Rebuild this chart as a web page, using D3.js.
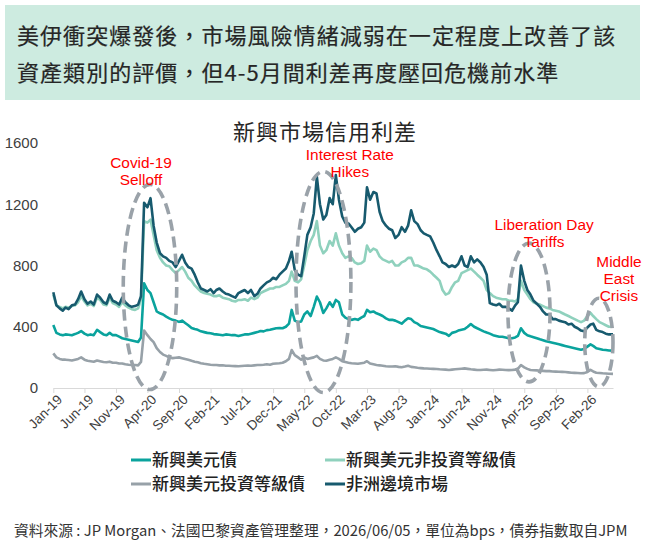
<!DOCTYPE html>
<html><head><meta charset="utf-8">
<script src="https://cdn.jsdelivr.net/npm/d3@7"></script>
<style>
body{margin:0;background:#fff}
svg{display:block;font-family:"Noto Sans CJK TC","Noto Sans",sans-serif}
</style>
</head><body>
<svg id="chart" width="648" height="543"></svg>
<script>
// ---------- data ----------
const headerLines = ["美伊衝突爆發後，市場風險情緒減弱在一定程度上改善了該", "資產類別的評價，但4-5月間利差再度壓回危機前水準"];
const chartTitle = "新興市場信用利差";
const footerText = "資料來源 : JP Morgan、法國巴黎資產管理整理，2026/06/05，單位為bps，債券指數取自JPM";
const seriesNames = ["新興美元債", "新興美元非投資等級債", "新興美元投資等級債", "非洲邊境市場"];
const tickLabels = ["Jan-19","Jun-19","Nov-19","Apr-20","Sep-20","Feb-21","Jul-21","Dec-21","May-22","Oct-22","Mar-23","Aug-23","Jan-24","Jun-24","Nov-24","Apr-25","Sep-25","Feb-26"];
const yTicks = [0, 400, 800, 1200, 1600];
const firstDate = "2019-01-01", lastDate = "2026-06-05";

// semi-monthly observations: 1st and 16th of each month, Jan 2019 .. May 2026, then 5 Jun 2026
const emUsd = [
 412,360,350,345,350,348,345,352,360,372,355,345,350,345,380,365,350,345,360,345,345,335,325,320,
 315,310,305,300,330,684,640,620,560,500,488,480,466,455,445,440,432,440,425,410,392,385,380,370,
 365,360,358,352,350,348,345,350,348,345,345,340,345,350,350,355,360,365,372,370,378,380,385,390,
 392,390,400,420,510,440,430,434,480,500,470,530,597,560,490,520,560,530,575,560,480,460,450,445,
 450,445,460,470,510,495,500,488,480,470,455,445,445,440,430,420,440,455,450,430,420,405,400,395,
 390,385,375,365,360,355,340,360,365,375,380,385,400,418,400,390,380,370,362,355,345,340,335,335,
 330,325,325,330,340,390,360,345,338,332,325,318,312,305,300,295,290,285,280,275,270,265,260,255,
 250,255,270,285,275,260,255,250,248,245,244];
const emHY = [
 610,540,530,520,530,525,535,540,560,600,565,540,550,535,590,575,545,540,590,555,545,530,560,540,
 525,515,510,520,580,1090,1080,1100,1000,900,850,820,800,795,770,750,770,790,760,720,700,670,650,630,
 620,615,610,600,600,605,590,585,580,570,565,575,575,580,570,590,580,590,620,630,640,650,650,660,
 660,670,680,700,760,700,690,710,800,900,960,1000,1090,930,880,900,960,930,1010,930,880,850,860,850,
 820,810,815,830,930,890,910,900,860,840,830,820,830,800,800,820,830,850,850,800,800,790,780,775,
 760,740,720,700,640,610,620,660,690,700,750,760,770,780,760,740,720,700,640,620,600,590,585,580,
 580,570,570,565,580,700,640,610,580,560,550,545,535,525,520,510,505,500,490,480,470,460,450,440,
 430,440,470,490,470,450,430,420,410,400,400];
const emIG = [
 226,200,190,185,185,183,180,185,190,200,185,178,175,172,180,175,170,168,172,165,165,160,160,155,
 152,150,150,148,170,375,345,320,300,260,235,218,210,200,195,198,200,195,190,185,178,172,168,162,
 158,155,152,150,150,148,148,145,145,144,143,142,144,145,146,145,148,150,150,152,155,152,158,160,
 162,165,175,190,248,215,200,185,200,190,195,200,210,190,180,178,185,190,200,190,175,170,165,162,
 160,158,162,165,175,160,155,150,148,145,142,140,140,142,138,136,140,145,138,135,132,130,128,127,
 126,125,124,122,121,120,118,120,122,124,126,128,125,122,120,118,118,119,120,118,116,118,120,119,
 118,117,118,120,125,150,135,125,118,116,115,113,112,110,110,108,107,106,105,104,102,100,99,98,
 96,97,105,118,108,100,98,96,95,93,92];
const africaFrontier = [
 625,540,520,505,525,515,540,545,580,630,580,550,565,545,610,590,560,550,610,570,560,545,590,560,
 540,530,535,545,600,1210,1180,1240,1060,950,880,860,850,830,820,790,830,870,820,790,780,740,690,650,
 640,630,645,620,640,650,630,615,610,600,590,620,630,640,620,640,600,615,650,670,690,700,720,710,
 740,760,780,830,890,770,740,730,860,1000,1050,1140,1380,1200,1100,1130,1240,1200,1390,1230,1120,1080,1075,1050,
 1020,1040,1050,1080,1310,1230,1280,1270,1150,1090,1060,1040,1030,980,1000,1050,1020,1060,1160,1090,1070,1030,1010,1000,
 990,950,900,860,820,810,790,800,790,810,860,800,790,860,820,840,820,790,740,555,545,540,550,530,
 530,520,505,540,560,800,700,640,610,570,550,530,500,480,480,450,450,440,435,430,415,420,400,390,
 375,370,395,415,420,380,370,365,355,350,350];

// highlighted episodes (date span, value span) and their captions
const episodes = [
 {from:"2019-12-06", to:"2020-08-21", lo:-10, hi:1330},
 {from:"2022-03-22", to:"2022-12-13", lo:-30, hi:1414},
 {from:"2025-01-12", to:"2025-08-04", lo:40,  hi:946},
 {from:"2026-01-19", to:"2026-06-05", lo:8,   hi:586}
];
const captions = [
 {lines:["Covid-19","Selloff"], date:"2020-03-01", value:1438},
 {lines:["Interest Rate","Hikes"], date:"2022-12-08", value:1490},
 {lines:["Liberation Day","Tariffs"], date:"2025-07-06", value:1033},
 {lines:["Middle","East","Crisis"], date:"2026-07-04", value:793}
];

// ---------- build ----------
const parse = d3.timeParse("%Y-%m-%d");
const dates = [];
for (let m = 0; m < 89; m++) { dates.push(new Date(2019, m, 1)); dates.push(new Date(2019, m, 16)); }
dates.push(parse(lastDate));

const seriesValues = [emUsd, emHY, emIG, africaFrontier];
const colors = ["#0aa39d", "#8fd1bd", "#97a1a8", "#175a6e"];

const svg = d3.select("#chart");
svg.append("rect").attr("width",648).attr("height",543).attr("fill","#fff");

// header
svg.append("rect").attr("x",5).attr("y",5).attr("width",635).attr("height",95).attr("fill","#cdebe0");
svg.selectAll("text.hdr").data(headerLines).join("text").attr("class","hdr")
  .attr("x",17).attr("y",(d,i)=>44+i*37)
  .attr("font-size",22).attr("font-weight",400).attr("letter-spacing",1.05)
  .attr("fill","#262626").attr("stroke","#262626").attr("stroke-width",0.2).text(d=>d);

// title
svg.append("text").attr("x",325).attr("y",140).attr("text-anchor","middle")
  .attr("font-size",22).attr("letter-spacing",1).attr("fill","#262626").text(chartTitle);

const x = d3.scaleTime().domain([parse(firstDate), parse(lastDate)]).range([53.3, 613]);
const y = d3.scaleLinear().domain([0,1600]).range([388,143]);

// y axis labels
const yAx = svg.append("g").attr("transform","translate(38,0)")
  .call(d3.axisLeft(y).tickValues(yTicks).tickFormat(d3.format("d")).tickSize(0).tickPadding(0));
yAx.select(".domain").remove();
yAx.selectAll("text").attr("font-size",15).attr("fill","#404040").attr("font-family","inherit");

// x axis
const tickParse = d3.timeParse("%b-%y");
const xAx = svg.append("g").attr("transform","translate(0,388)")
  .call(d3.axisBottom(x).tickValues(tickLabels.map(tickParse)).tickFormat(d3.timeFormat("%b-%y")).tickSize(5).tickSizeOuter(0));
xAx.select(".domain").attr("stroke","#d9d9d9");
xAx.selectAll(".tick line").attr("stroke","#d9d9d9");
xAx.selectAll("text").attr("font-size",13.5).attr("fill","#404040").attr("font-family","inherit")
  .attr("text-anchor","end").attr("x",0).attr("y",0).attr("dy","0.35em")
  .attr("transform","translate(6,9) rotate(-45)");

// lines
const line = d3.line().x((d,i)=>x(dates[i])).y(d=>y(d));
svg.append("g").selectAll("path").data(seriesValues).join("path")
  .attr("d", d=>line(d)).attr("fill","none")
  .attr("stroke",(d,i)=>colors[i]).attr("stroke-width",2.6).attr("stroke-linejoin","round");

// dashed ellipses
svg.append("g").selectAll("ellipse").data(episodes).join("ellipse")
  .attr("cx", d=>(x(parse(d.from))+x(parse(d.to)))/2)
  .attr("cy", d=>(y(d.lo)+y(d.hi))/2)
  .attr("rx", d=>(x(parse(d.to))-x(parse(d.from)))/2)
  .attr("ry", d=>(y(d.lo)-y(d.hi))/2)
  .attr("fill","none").attr("stroke","#9aa2a9").attr("stroke-width",3.6)
  .attr("stroke-dasharray","11 6");

// captions
const cap = svg.append("g").selectAll("g").data(captions).join("g");
cap.each(function(d){
  const g = d3.select(this);
  d.lines.forEach((s,i)=>g.append("text")
    .attr("text-anchor","middle").attr("font-family","'Liberation Sans', Arial, sans-serif")
    .attr("font-size",15.4).attr("fill","#ff0000")
    .attr("x",x(parse(d.date))).attr("y",y(d.value)+i*17.4).text(s));
});

// legend
const legendPos = [[131,460],[325,460],[131,484],[325,484]];
const lg = svg.append("g").selectAll("g").data(seriesNames).join("g")
  .attr("transform",(d,i)=>`translate(${legendPos[i][0]},${legendPos[i][1]})`);
lg.append("line").attr("x1",0).attr("x2",20).attr("y1",0).attr("y2",0)
  .attr("stroke",(d,i)=>colors[i]).attr("stroke-width",3);
lg.append("text").attr("x",21).attr("y",0).attr("dy","0.36em")
  .attr("font-size",17).attr("font-weight",500).attr("fill","#222").text(d=>d);

// footer
const ft = svg.append("text").attr("x",14).attr("y",536).attr("font-size",14).attr("fill","#333").text(footerText);
const w = ft.node().getComputedTextLength();
ft.attr("font-size", 14*614/w);
</script>
</body></html>
